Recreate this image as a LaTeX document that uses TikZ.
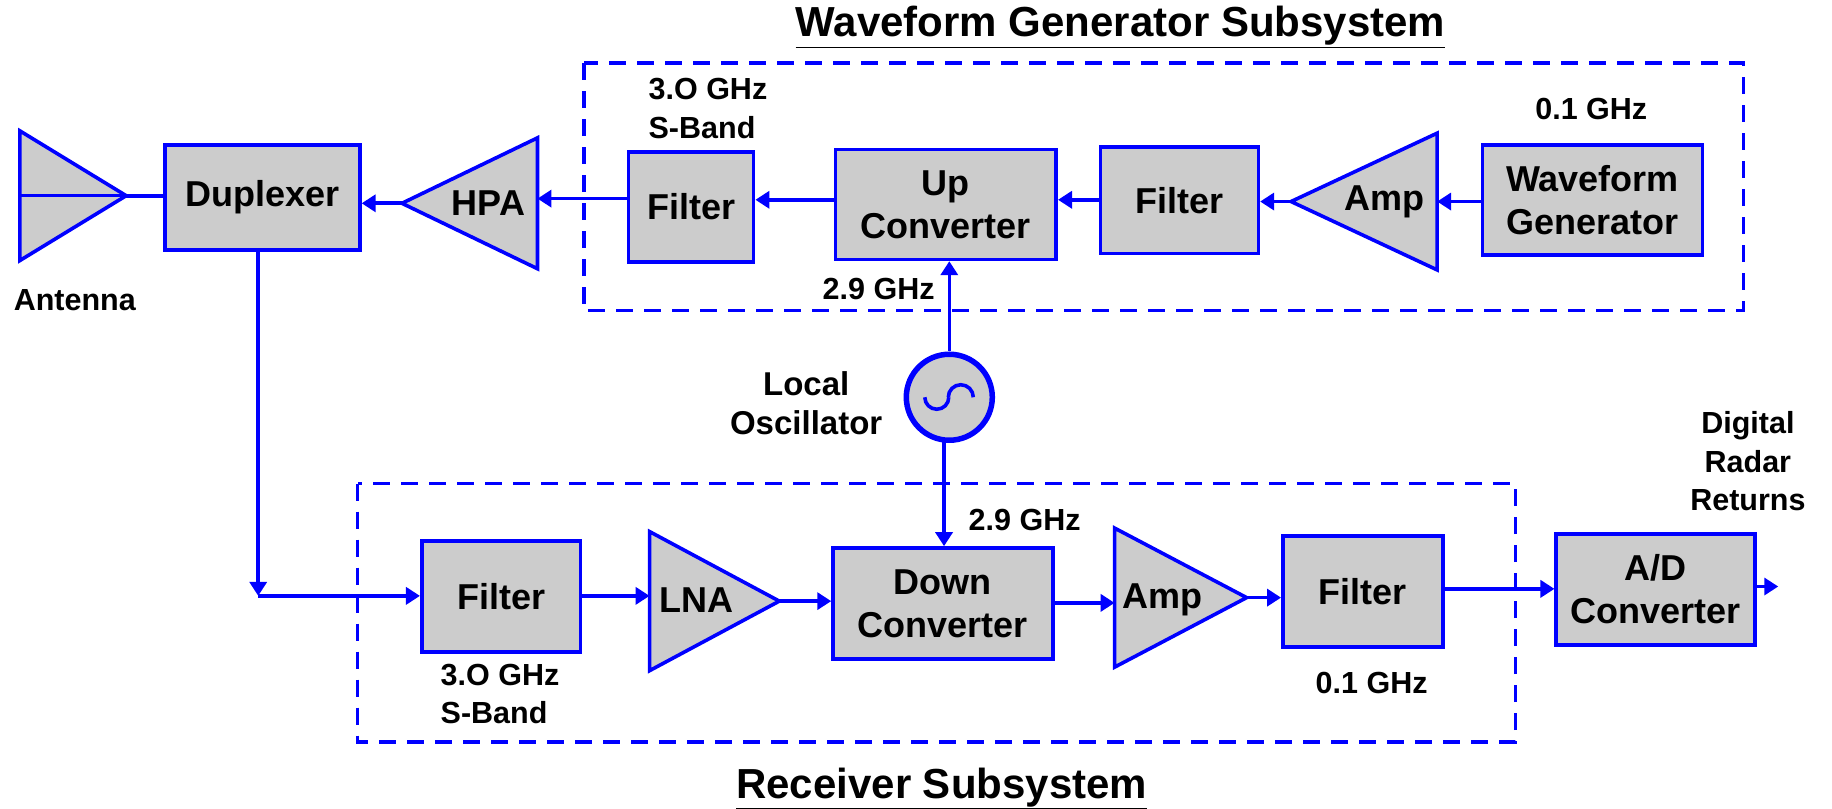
\documentclass[tikz,border=0pt]{standalone}
\usepackage{fontspec}
\setmainfont{Liberation Sans}
\usetikzlibrary{arrows.meta}
\definecolor{wire}{HTML}{0000FF}
\definecolor{boxfill}{HTML}{CCCCCC}
\tikzset{
  x=1.1684pt,y=-1.1684pt,
  txtbig/.style={font=\bfseries\fontsize{36}{43}\selectfont,align=center,inner sep=0pt,text=black},
  txtsmall/.style={font=\bfseries\fontsize{30.5}{38.5}\selectfont,align=center,inner sep=0pt,text=black},
  txttitle/.style={font=\bfseries\fontsize{42}{48}\selectfont,inner sep=0pt,text=black},
  block/.style={txtbig,draw=wire,fill=boxfill,line width=3.6pt},
  bbox/.style={inner sep=0pt,outer sep=0pt},
  tri/.style={draw=wire,fill=boxfill,line width=3.6pt,line join=miter},
  conn/.style={draw=wire,line width=3.6pt},
  arr/.style={conn,-{Triangle[length=14pt,width=17pt]}},
  dashbox/.style={draw=wire,line width=3.4pt,dash pattern=on 17pt off 11pt},
}
% box by corners: name, x1,y1,x2,y2, text
\newcommand{\blockat}[6]{\node[block,anchor=center,minimum width={(#4-#2)*1.1684pt},minimum height={(#5-#3)*1.1684pt}] (#1) at ({(#2+#4)/2},{(#3+#5)/2}) {#6};}
% invisible extent of a triangle
\newcommand{\extent}[5]{\node[bbox,minimum width={(#4-#2)*1.1684pt},minimum height={(#5-#3)*1.1684pt}] (#1) at ({(#2+#4)/2},{(#3+#5)/2}) {};}
\begin{document}
\begin{tikzpicture}
\useasboundingbox (0,0) rectangle (1568,691.6);
% dashed subsystem frames
\draw[dashbox] (500,54) rectangle (1492,266);
\draw[dashbox] (306,414) rectangle (1297,635);
% triangles
\extent{ant}{17}{112}{108}{223}
\draw[tri] (ant.north west) -- (ant.east) -- (ant.south west) -- cycle;
\extent{hpa}{344}{118}{460}{230}
\draw[tri] (hpa.west) -- (hpa.north east) -- (hpa.south east) -- cycle;
\extent{amptx}{1105}{114}{1230}{231}
\draw[tri] (amptx.west) -- (amptx.north east) -- (amptx.south east) -- cycle;
\extent{lna}{556}{455}{667}{574}
\draw[tri] (lna.north west) -- (lna.east) -- (lna.south west) -- cycle;
\extent{amprx}{954}{452}{1067}{571}
\draw[tri] (amprx.north west) -- (amprx.east) -- (amprx.south west) -- cycle;
\draw[conn,line width=3pt] (ant.west) -- (ant.east);
% triangle labels
\node[txtbig] (hpalbl) at (418,174) {HPA};
\node[txtbig] (amptxlbl) at (1185,173) {Amp};
\node[txtbig] (lnalbl) at (596,514) {LNA};
\node[txtbig] (amprxlbl) at (995,513) {Amp};
% blocks
\blockat{dup}{141}{124}{308}{214}{Duplexer}
\blockat{ftx}{538}{130}{645}{224}{Filter}
\blockat{up}{715}{128}{904}{222}{Up\\Converter}
\blockat{fif}{942}{126}{1077}{217}{Filter}
\blockat{wg}{1269}{124}{1457}{218}{Waveform\\Generator}
\blockat{frx}{361}{463}{497}{558}{Filter}
\blockat{down}{713}{469}{901}{564}{Down\\Converter}
\blockat{frif}{1098}{459}{1235}{554}{Filter}
\blockat{ad}{1332}{457}{1502}{552}{A/D\\Converter}
% oscillator
\node[draw=wire,fill=boxfill,line width=5.5pt,circle,minimum size=86pt,inner sep=0pt] (lo) at (812.5,340) {};
\draw[wire,line width=3.6pt] ([xshift=-24.5pt]lo.center) arc[start angle=180,end angle=360,radius=12pt];
\draw[wire,line width=3.6pt] ([xshift=-1pt]lo.center) arc[start angle=180,end angle=0,radius=12.5pt];
% connector ends
\coordinate (junc) at (221,510);
\coordinate (adout) at (1522,502);
% connectors
\draw[conn] (ant.east) -- (dup.west |- ant.east);
\draw[arr] (hpa.west) -- (dup.east |- hpa.west);
\draw[arr] (ftx.west |- 0,170) -- (hpa.east |- 0,170);
\draw[arr] (up.west |- 0,171) -- (ftx.east |- 0,171);
\draw[arr] (fif.west |- 0,171) -- (up.east |- 0,171);
\draw[arr] (amptx.west) -- (fif.east |- amptx.west);
\draw[arr] (wg.west |- amptx.west) -- (amptx.east);
\draw[arr] (lo.north -| 812.5,0) -- (up.south -| 812.5,0);
\draw[arr] (808,378) -- (down.north -| 808,0);
\draw[arr] (dup.south -| junc) -- (junc);
\draw[arr] (junc) -- (frx.west |- junc);
\draw[arr] (frx.east |- junc) -- (lna.west |- junc);
\draw[arr] (lna.east) -- (down.west |- lna.east);
\draw[arr] (down.east |- 0,516) -- (amprx.west |- 0,516);
\draw[arr] (amprx.east) -- (frif.west |- amprx.east);
\draw[arr] (frif.east |- 0,504) -- (ad.west |- 0,504);
\draw[arr] (ad.east |- adout) -- (adout);
% labels
\node[txtsmall] (antlbl) at (64,257) {Antenna};
\node[txtsmall,anchor=west,align=left] (tx3) at (555,93) {3.O GHz\\S-Band};
\node[txtsmall] (tx01) at (1362,93) {0.1 GHz};
\node[txtsmall] (tx29) at (752,247) {2.9 GHz};
\node[txtbig,font=\bfseries\fontsize{33}{39}\selectfont] (lolbl) at (690,345) {Local\\Oscillator};
\node[txtsmall] (rx29) at (877,445) {2.9 GHz};
\node[txtsmall,anchor=west,align=left] (rx3) at (377,594) {3.O GHz\\S-Band};
\node[txtsmall] (rx01) at (1174,585) {0.1 GHz};
\node[txtsmall] (ret) at (1496,395) {Digital\\Radar\\Returns};
\node[txttitle] (t1) at (959,23) {\underline{Waveform Generator Subsystem}};
\node[txttitle] (t2) at (806,675) {\underline{Receiver Subsystem}};
\end{tikzpicture}
\end{document}
